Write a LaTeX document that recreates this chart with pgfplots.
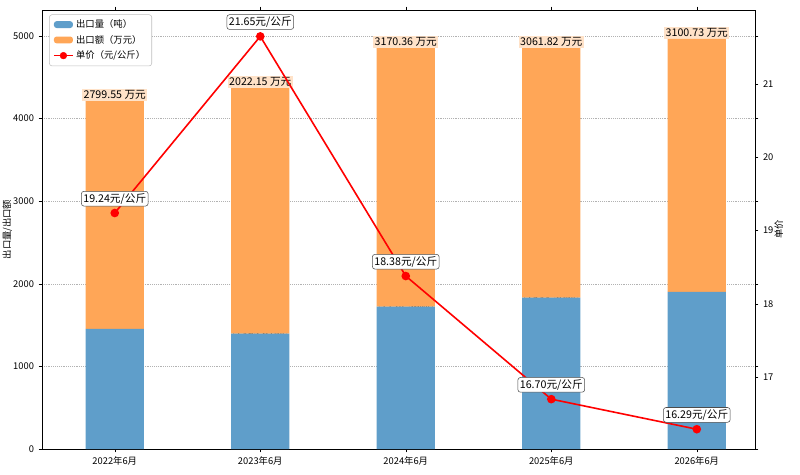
\documentclass[border=0pt]{standalone}
\usepackage{pgfplots}
\pgfplotsset{compat=1.18}
\usepackage{fontspec}
\setmainfont{Noto Sans CJK SC}
\definecolor{cblue}{RGB}{95,158,202}
\definecolor{corange}{RGB}{255,166,87}
\definecolor{cwheat}{RGB}{250,228,200}
\definecolor{clight}{RGB}{255,226,200}
\begin{document}
\begin{tikzpicture}[font=\fontsize{7}{8}\selectfont]
\useasboundingbox (-31.5pt,-19.5pt) rectangle (568.5pt,336.75pt);
\begin{axis}[
  at={(0,0)}, anchor=south west, scale only axis,
  width=534.75pt, height=329.25pt,
  xmin=-0.5, xmax=4.4, ymin=0, ymax=5315,
  xtick={0,1,2,3,4},
  xticklabels={2022年6月,2023年6月,2024年6月,2025年6月,2026年6月},
  ytick={0,1000,2000,3000,4000,5000},
  ymajorgrids, grid style={densely dotted, gray!60},
  ylabel={出口量/出口额}, ylabel style={yshift=-6pt},
  /pgf/number format/assume math mode=true,
  yticklabel style={/pgf/number format/1000 sep={}},
  tick align=outside, tick style={black}, major tick length=2.5pt,
  ybar stacked, bar width=0.4,
  legend style={at={(0.01,0.99)}, anchor=north west, font=\fontsize{7}{8}\selectfont, draw=gray!50, rounded corners=2pt, cells={anchor=west}},
  legend image code/.code={\fill[#1] (0cm,-0.08cm) rectangle (0.5cm,0.1cm);},
]
\addplot[draw=none, fill=cblue] coordinates {(0,1455.13) (1,1395.67) (2,1724.56) (3,1833.50) (4,1903.37)};
\addlegendentry{出口量（吨）}
\addplot[draw=none, fill=corange] coordinates {(0,2758) (1,2974) (2,3130) (3,3021) (4,3061)};
\addlegendentry{出口额（万元）}
\addlegendimage{red, legend image code/.code={\draw[red, thick] (0cm,0cm) -- (0.5cm,0cm); \fill[red] (0.25cm,0cm) circle (2.5pt);}}
\addlegendentry{单价（元/公斤）}
\foreach \x/\b in {0/1455.13,1/1395.67,2/1724.56,3/1833.50,4/1903.37}{
  \edef\temp{\noexpand\node[draw=black!70, fill=cwheat, rounded corners=2pt, inner sep=1.5pt, font=\noexpand\fontsize{8}{9}\noexpand\selectfont] at (axis cs:\x,\b) {\b 吨};}\temp
}
\node[fill=clight, inner sep=1pt, anchor=south, font=\fontsize{8}{9}\selectfont] at (axis cs:0,4213) {2799.55 万元};
\node[fill=clight, inner sep=1pt, anchor=south, font=\fontsize{8}{9}\selectfont] at (axis cs:1,4370) {2022.15 万元};
\node[fill=clight, inner sep=1pt, anchor=south, font=\fontsize{8}{9}\selectfont] at (axis cs:2,4855) {3170.36 万元};
\node[fill=clight, inner sep=1pt, anchor=south, font=\fontsize{8}{9}\selectfont] at (axis cs:3,4855) {3061.82 万元};
\node[fill=clight, inner sep=1pt, anchor=south, font=\fontsize{8}{9}\selectfont] at (axis cs:4,4964) {3100.73 万元};
\end{axis}
\begin{axis}[
  at={(0,0)}, anchor=south west, scale only axis,
  width=534.75pt, height=329.25pt,
  xmin=-0.5, xmax=4.4, ymin=16.02, ymax=22.01,
  axis y line*=right, axis x line=none,
  ytick={17,18,19,20,21},
  ylabel={单价}, ylabel style={yshift=6pt},
  /pgf/number format/assume math mode=true,
  tick align=outside, tick style={black}, major tick length=2.5pt,
]
\addplot[red, line width=1.2pt, mark=*, mark size=2.6pt] coordinates {(0,19.24) (1,21.65) (2,18.38) (3,16.70) (4,16.29)};
\foreach \x/\v in {0/19.24,1/21.65,2/18.38,3/16.70,4/16.29}{
  \edef\temp{\noexpand\node[draw=black!70, fill=white, rounded corners=2pt, inner sep=1.5pt, font=\noexpand\fontsize{8}{9}\noexpand\selectfont, anchor=south] at (axis cs:\x,\v) [yshift=5pt] {\v 元/公斤};}\temp
}
\end{axis}
\end{tikzpicture}
\end{document}
